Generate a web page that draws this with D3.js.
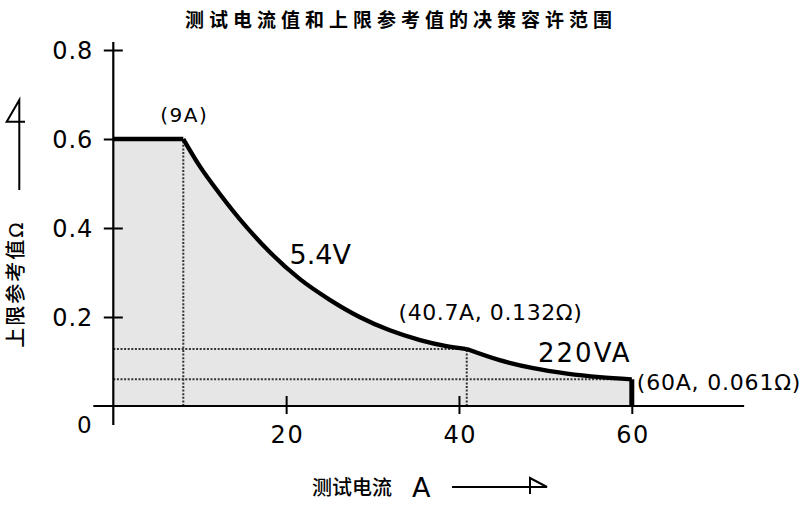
<!DOCTYPE html>
<html lang="zh">
<head>
<meta charset="utf-8">
<title>测试电流值和上限参考值的决策容许范围</title>
<style>
  html, body { margin: 0; padding: 0; background: #fff; }
  svg text { font-family: "DejaVu Sans", "Noto Sans CJK SC", sans-serif; fill: #000; }
  .guide { stroke: #333; stroke-width: 2; stroke-dasharray: 2,1.6; fill: none; }
  .curve { stroke: #000; stroke-width: 4.3; fill: none; stroke-linejoin: round; }
  .fill { fill: #e6e6e6; stroke: #e6e6e6; stroke-width: 0.6; }
</style>
</head>
<body>
<div id="chart"></div>
<script src="https://cdn.jsdelivr.net/npm/d3@7"></script>
<script>
// ---- data ----
var xTicks = [20, 40, 60];
var yTicks = [0.2, 0.4, 0.6, 0.8];
var yTickLabels = ["0.2", "0.4", "0.6", "0.8"];

// flat part, then the 5.4V curve, then the 220VA curve (current A, resistance Ω)
var flatSeg = [[0, 0.6], [8.1, 0.6]];
var seg54V = [[8.1, 0.600], [10.0, 0.539], [12.35, 0.476], [15.2, 0.407], [18.1, 0.346],
              [21.6, 0.285], [25.1, 0.238], [28.5, 0.200], [32.0, 0.170], [35.5, 0.148],
              [38.4, 0.135], [40.9, 0.128]];
var seg220VA = [[40.9, 0.128], [44.7, 0.103], [48.6, 0.085], [52.5, 0.073], [56.3, 0.065], [60, 0.060]];
var endDrop = [[60, 0.060], [60, 0]];

// dotted guide lines
var guides = [
  [[8.1, 0], [8.1, 0.6]],
  [[0, 0.128], [40.9, 0.128]],
  [[40.9, 0], [40.9, 0.128]],
  [[0, 0.060], [60, 0.060]]
];

var title = "测试电流值和上限参考值的决策容许范围";
var xLabel = "测试电流";
var xUnit = "A";
var yLabel = "上限参考值Ω";
var notes = [
  { text: "(9A)",            i: 8.1,  r: 0.6 },
  { text: "5.4V",            i: 20.4, r: 0.32 },
  { text: "(40.7A, 0.132Ω)", i: 33.0, r: 0.193 },
  { text: "220VA",           i: 49.15, r: 0.1 },
  { text: "(60A, 0.061Ω)",   i: 60,   r: 0.036 }
];

var width = 800, height = 505;

var svg = d3.select("#chart").append("svg")
    .attr("width", width)
    .attr("height", height);

var x = d3.scaleLinear().domain([0, 60]).range([113.3, 631.8]);
var y = d3.scaleLinear().domain([0, 0.8]).range([406, 50]);

// shaded region
var area = d3.area().x(function(d) { return x(d[0]); }).y0(y(0)).y1(function(d) { return y(d[1]); });
svg.append("path").attr("class", "fill").attr("d", area(flatSeg));
svg.append("path").attr("class", "fill").attr("d", area.curve(d3.curveMonotoneX)(seg54V));
svg.append("path").attr("class", "fill").attr("d", area.curve(d3.curveMonotoneX)(seg220VA));

// guides
var lin = d3.line().x(function(d) { return x(d[0]); }).y(function(d) { return y(d[1]); });
svg.selectAll(".guide")
    .data(guides)
  .enter().append("path")
    .attr("class", "guide")
    .attr("d", lin);

// curve
var smooth = d3.line().curve(d3.curveMonotoneX).x(function(d) { return x(d[0]); }).y(function(d) { return y(d[1]); });
svg.append("path").attr("class", "curve").attr("d", lin(flatSeg));
svg.append("path").attr("class", "curve").attr("d", smooth(seg54V));
svg.append("path").attr("class", "curve").attr("d", smooth(seg220VA));
svg.append("path").attr("class", "curve").style("stroke-width", 5).attr("d", lin(endDrop));

// axis lines (they run a bit past the origin)
svg.append("line")
    .attr("x1", x(0) - 20).attr("x2", x(73))
    .attr("y1", y(0)).attr("y2", y(0))
    .attr("stroke", "#000").attr("stroke-width", 2.2);
svg.append("line")
    .attr("x1", x(0)).attr("x2", x(0))
    .attr("y1", y(0) + 19).attr("y2", y(0.818))
    .attr("stroke", "#000").attr("stroke-width", 2.2);

// x ticks
var gx = svg.append("g")
    .attr("transform", "translate(0," + y(0) + ")")
    .call(d3.axisBottom(x).tickValues(xTicks).tickFormat(d3.format("d")).tickSizeOuter(0));
gx.select(".domain").remove();
gx.selectAll(".tick line").attr("y1", -10).attr("y2", 8).attr("stroke-width", 2);
gx.selectAll(".tick text")
    .attr("y", 36.5).attr("dy", 0).attr("dx", 0.75)
    .style("font-size", "24px").style("letter-spacing", "1.5px");

// y ticks
var gy = svg.append("g")
    .attr("transform", "translate(" + x(0) + ",0)")
    .call(d3.axisLeft(y).tickValues(yTicks).tickFormat(function(d, i) { return yTickLabels[i]; }).tickSizeOuter(0));
gy.select(".domain").remove();
gy.selectAll(".tick line").attr("x1", 9.5).attr("x2", -9.5).attr("stroke-width", 2);
gy.selectAll(".tick text")
    .attr("x", -20).attr("dy", "0.36em")
    .style("font-size", "24px").style("letter-spacing", "1px");

// origin label
svg.append("text")
    .attr("x", x(0) - 29).attr("y", y(0) + 27)
    .attr("text-anchor", "middle")
    .style("font-size", "23px")
    .text("0");

// annotations
var noteStyle = [
  { size: 20, ls: 1.5, anchor: "middle", dx: 1,  dy: -17 },
  { size: 27, ls: 0,   anchor: "start",  dx: 0,  dy: 0 },
  { size: 22, ls: 0.6, anchor: "start",  dx: 0,  dy: 0 },
  { size: 26, ls: 2,   anchor: "start",  dx: 0,  dy: 0 },
  { size: 22, ls: 0.8, anchor: "start",  dx: 5,  dy: 0 }
];
svg.selectAll(".note")
    .data(notes)
  .enter().append("text")
    .attr("class", "note")
    .attr("x", function(d, i) { return x(d.i) + noteStyle[i].dx; })
    .attr("y", function(d, i) { return y(d.r) + noteStyle[i].dy; })
    .attr("text-anchor", function(d, i) { return noteStyle[i].anchor; })
    .style("font-size", function(d, i) { return noteStyle[i].size + "px"; })
    .style("letter-spacing", function(d, i) { return noteStyle[i].ls + "px"; })
    .text(function(d) { return d.text; });

// title
svg.append("text")
    .attr("x", 401).attr("y", 26.5)
    .attr("text-anchor", "middle")
    .style("font-size", "19px").style("font-weight", "bold").style("letter-spacing", "5px")
    .text(title);

// x label + arrow
svg.append("text")
    .attr("x", 312).attr("y", 495)
    .style("font-size", "20px").style("font-weight", "500")
    .text(xLabel);
svg.append("text")
    .attr("x", 412).attr("y", 497)
    .style("font-size", "27px")
    .text(xUnit);
svg.append("path")
    .attr("d", "M452,487H547L530,478V494")
    .attr("fill", "none").attr("stroke", "#000").attr("stroke-width", 2);

// y label + arrow
svg.append("text")
    .attr("transform", "translate(16,284) rotate(-90)")
    .attr("text-anchor", "middle")
    .attr("dominant-baseline", "central")
    .style("font-size", "20px").style("font-weight", "500").style("letter-spacing", "2px")
    .text(yLabel);
svg.append("path")
    .attr("d", "M19.3,190V100L6.7,121.7H25")
    .attr("fill", "none").attr("stroke", "#000").attr("stroke-width", 2);
</script>
</body>
</html>
